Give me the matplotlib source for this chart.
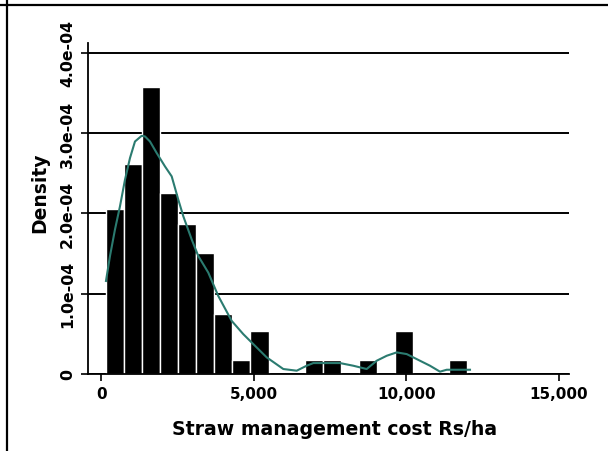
import matplotlib
matplotlib.use('Agg')
import matplotlib.pyplot as plt
from matplotlib.lines import Line2D
import numpy as np

# histogram of straw management cost (Rs/ha), density scale
bin_start = 155
bin_width = 592
density = [2.056, 2.618, 3.577, 2.254, 1.870, 1.501, 0.744, 0.174, 0.537, 0.0,
           0.0, 0.174, 0.174, 0.0, 0.174, 0.0, 0.537, 0.0, 0.0, 0.174]  # x 1e-4

# kernel density estimate, read as a polyline
kde_x = [157, 288, 452, 616, 780, 944, 1107, 1327, 1435, 1599, 1818, 2090, 2310,
         2526, 2690, 2965, 3182, 3509, 3837, 4276, 4656, 4984, 5423, 5967, 6406,
         6733, 6950, 7824, 8260, 8699, 9027, 9355, 9682, 10010, 10446, 10773,
         11101, 11321, 12084]
kde_y = [1.158, 1.468, 1.799, 2.088, 2.419, 2.689, 2.894, 2.965, 2.957, 2.894,
         2.751, 2.584, 2.460, 2.171, 1.964, 1.675, 1.468, 1.262, 0.971, 0.661,
         0.496, 0.372, 0.207, 0.062, 0.041, 0.103, 0.136, 0.136, 0.103, 0.062,
         0.165, 0.227, 0.269, 0.248, 0.165, 0.103, 0.029, 0.053, 0.053]  # x 1e-4

x_ticks = [0, 5000, 10000, 15000]
x_labels = ['0', '5,000', '10,000', '15,000']
y_ticks = [0, 1e-4, 2e-4, 3e-4, 4e-4]
y_labels = ['0', '1.0e-04', '2.0e-04', '3.0e-04', '4.0e-04']

fig = plt.figure(figsize=(6.08, 4.52), dpi=100)
ax = fig.add_axes([87.7 / 608, 1 - 375 / 452, (569 - 87.7) / 608, (375 - 44) / 452])

edges = bin_start + bin_width * np.arange(len(density))
ax.bar(edges, np.array(density) * 1e-4, width=bin_width, align='edge',
       color='black', edgecolor='white', linewidth=1.0, zorder=2)
ax.plot(kde_x, np.array(kde_y) * 1e-4, color='#2b7b70', lw=1.5, zorder=3)

ax.set_xlim(-442, 15328)
ax.set_ylim(0, 4.12e-4)
ax.set_axisbelow(True)
ax.yaxis.grid(True, color='black', lw=1.4)

ax.set_xticks(x_ticks)
ax.set_xticklabels(x_labels, fontsize=11, fontweight='bold')
ax.set_yticks(y_ticks)
ax.set_yticklabels(y_labels, fontsize=11.3, fontweight='bold', rotation=90, va='center')
ax.tick_params(axis='both', length=5, width=1.2, color='black', pad=4)

for side in ['top', 'right']:
    ax.spines[side].set_visible(False)
for side in ['left', 'bottom']:
    ax.spines[side].set_linewidth(1.3)

fig.text(335 / 608, 1 - 430 / 452, 'Straw management cost Rs/ha',
         ha='center', va='center', fontsize=13.6, fontweight='bold')
fig.text(40 / 608, 1 - 193 / 452, 'Density', rotation=90,
         ha='center', va='center', fontsize=13.5, fontweight='bold')

# frame lines along the top and left edge
fig.add_artist(Line2D([0, 1], [1 - 6 / 452] * 2, transform=fig.transFigure, color='black', lw=1.6))
fig.add_artist(Line2D([7 / 608] * 2, [0, 1], transform=fig.transFigure, color='black', lw=1.6))

fig.savefig('out.png', dpi=100)
